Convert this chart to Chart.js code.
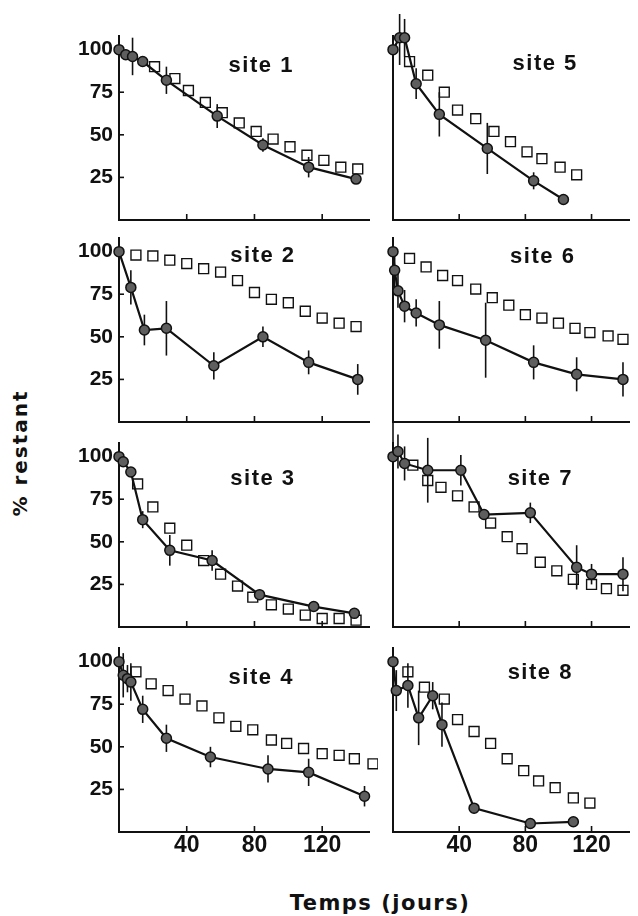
<!DOCTYPE html>
<html>
<head>
<meta charset="utf-8">
<script src="https://cdn.jsdelivr.net/npm/chart.js@4.4.0/dist/chart.umd.min.js"></script>
<style>
  html, body { margin: 0; padding: 0; background: #fff; }
  body { width: 638px; height: 916px; position: relative; overflow: hidden; }
  canvas { position: absolute; }
  .axis-title {
    position: absolute;
    font-family: "DejaVu Sans", sans-serif;
    font-weight: bold;
    color: #111;
    white-space: nowrap;
  }
  #yTitle { left: 20px; top: 453px; font-size: 20px; letter-spacing: 2px; transform: translate(-50%, -50%) rotate(-90deg); }
  #xTitle { left: 380px; top: 903px; font-size: 21px; letter-spacing: 1.5px; transform: translate(-50%, -50%); }
</style>
</head>
<body>
<div id="yTitle" class="axis-title">% restant</div>
<div id="xTitle" class="axis-title">Temps (jours)</div>
<script>
// tick labels
const xTicks = [40, 80, 120];
const yTicks = [25, 50, 75, 100];
const siteNames = ['site 1', 'site 2', 'site 3', 'site 4', 'site 5', 'site 6', 'site 7', 'site 8'];

// site 1
const obsDays1 = [0, 4, 8, 14, 28, 58, 85, 112, 140];
const obs1 = [100, 97, 96, 93, 82, 61, 44, 31, 24];
const err1 = [2, 3, 11, 3, 8, 7, 4, 6, 2];
const modDays1 = [21, 33, 41, 51, 61, 71, 81, 91, 101, 111, 121, 131, 141];
const mod1 = [90, 83, 76, 69, 63, 57, 52, 47.5, 43, 38, 35, 31, 30];

// site 2
const obsDays2 = [0, 7, 15, 28, 56, 85, 112, 141];
const obs2 = [100, 79, 54, 55, 33, 50, 35, 25];
const err2 = [1, 10, 9, 16, 8, 6, 7, 9];
const modDays2 = [10, 20, 30, 40, 50, 60, 70, 80, 90, 100, 110, 120, 130, 140];
const mod2 = [98, 97.5, 95, 93, 90, 88, 83, 76, 72, 70, 65, 61, 58, 56];

// site 3
const obsDays3 = [0, 2.5, 7, 14, 30, 55, 83, 115, 139];
const obs3 = [100, 97, 91, 63, 45, 39, 19, 12, 8];
const err3 = [1, 2, 2, 5, 9, 6, 3, 2, 2];
const modDays3 = [11, 20, 30, 40, 50, 60, 70, 79, 90, 100, 110, 120, 130, 140];
const mod3 = [84, 70.5, 58, 48, 39, 31, 24, 17.5, 13, 10.5, 7, 5, 5, 4];

// site 4
const obsDays4 = [0, 2.5, 5, 7, 14, 28, 54, 88, 112, 145];
const obs4 = [100, 92, 90, 88, 72, 55, 44, 37, 35, 21];
const err4 = [1, 13, 8, 11, 8, 8, 6, 8, 8, 6];
const modDays4 = [10, 19, 29, 39, 49, 59, 69, 79, 90, 99, 109, 120, 130, 139, 150];
const mod4 = [94, 87, 83, 78, 74, 67, 62, 60, 54, 52, 49, 46, 45, 43, 40];

// site 5
const obsDays5 = [0, 4, 7, 14, 28, 57, 85, 103];
const obs5 = [100, 107, 107, 80, 62, 42, 23, 12];
const err5 = [2, 16, 11, 9, 13, 15, 5, 3];
const modDays5 = [10, 21, 31, 39, 50, 61, 71, 81, 90, 101, 111];
const mod5 = [93, 85, 75, 64.5, 59.5, 52, 46, 40, 36, 31, 26.5];

// site 6
const obsDays6 = [0, 1, 3, 7, 14, 28, 56, 85, 111, 139];
const obs6 = [100, 89, 77, 68, 64, 57, 48, 35, 28, 25];
const err6 = [1, 12, 10, 9.5, 8, 14, 22, 10, 10, 10];
const modDays6 = [10, 20, 30, 39, 50, 60, 70, 80, 90, 100, 110, 119, 130, 139];
const mod6 = [96, 91, 86, 83, 78, 73, 68.6, 63, 61, 58, 55, 52.5, 50.5, 48.5];

// site 7
const obsDays7 = [0, 3, 7, 21, 41, 55, 83, 111, 120, 139];
const obs7 = [100, 103, 96, 92, 92, 66, 67, 35, 31, 31];
const err7 = [25, 10, 10, 19, 9, 3, 6, 13, 6, 10];
const modDays7 = [12, 21, 29, 39, 49, 59, 69, 78, 89, 99, 109, 120, 129, 139];
const mod7 = [95, 86, 82, 77, 70.5, 61, 53, 46, 38, 33, 28, 25, 22.5, 21.5];

// site 8
const obsDays8 = [0, 2, 9, 15.5, 24, 29.6, 49, 83, 109];
const obs8 = [100, 83, 86, 67, 80, 63, 14, 5, 6];
const err8 = [1, 12, 13, 16, 8, 13, 3, 2, 2];
const modDays8 = [9, 19, 31, 39, 49, 59, 69, 79, 88, 98, 109, 119];
const mod8 = [94, 85, 78, 66, 59, 52, 43, 36, 30, 26, 20, 17];

const panels = [
    { name: siteNames[0], col: 0, row: 0, obsDays: obsDays1, obs: obs1, err: err1, modDays: modDays1, mod: mod1, labelAt: [84, 90.5] },
    { name: siteNames[1], col: 0, row: 1, obsDays: obsDays2, obs: obs2, err: err2, modDays: modDays2, mod: mod2, labelAt: [85, 97.5] },
    { name: siteNames[2], col: 0, row: 2, obsDays: obsDays3, obs: obs3, err: err3, modDays: modDays3, mod: mod3, labelAt: [85, 87] },
    { name: siteNames[3], col: 0, row: 3, obsDays: obsDays4, obs: obs4, err: err4, modDays: modDays4, mod: mod4, labelAt: [84, 90.5] },
    { name: siteNames[4], col: 1, row: 0, obsDays: obsDays5, obs: obs5, err: err5, modDays: modDays5, mod: mod5, labelAt: [92, 91.5] },
    { name: siteNames[5], col: 1, row: 1, obsDays: obsDays6, obs: obs6, err: err6, modDays: modDays6, mod: mod6, labelAt: [90.5, 97] },
    { name: siteNames[6], col: 1, row: 2, obsDays: obsDays7, obs: obs7, err: err7, modDays: modDays7, mod: mod7, labelAt: [89, 87] },
    { name: siteNames[7], col: 1, row: 3, obsDays: obsDays8, obs: obs8, err: err8, modDays: modDays8, mod: mod8, labelAt: [89, 93.5] }
];

// layout of the grid
const PAD_TOP = 22;
const PLOT_H = 184;
const rowBottoms = [220, 422, 627, 832];
const cols = [
    { left: 50, width: 328, axisW: 69, padRight: 6, xMax: 148 },
    { left: 383, width: 255, axisW: 10, padRight: 0, xMax: 143 }
];
const INK = '#111';

// error bars, drawn after the squares and before the circles
const errorBars = {
    id: 'errorBars',
    afterDatasetDraw(chart, args) {
        if (args.index !== 1) return;
        const ds = chart.data.datasets[0];
        const { x, y } = chart.scales;
        const ctx = chart.ctx;
        ctx.save();
        ctx.strokeStyle = INK;
        ctx.lineWidth = 1.6;
        ds.data.forEach((pt, i) => {
            const e = ds.errors[i];
            if (!e) return;
            const px = x.getPixelForValue(pt.x);
            ctx.beginPath();
            ctx.moveTo(px, y.getPixelForValue(pt.y + e));
            ctx.lineTo(px, y.getPixelForValue(pt.y - e));
            ctx.stroke();
        });
        ctx.restore();
    }
};

// small tick marks pointing into the plot
const innerTicks = {
    id: 'innerTicks',
    afterDraw(chart, args, opts) {
        const { ctx, scales: { x, y } } = chart;
        ctx.save();
        ctx.strokeStyle = INK;
        ctx.lineWidth = 1.6;
        xTicks.forEach(v => {
            const px = x.getPixelForValue(v);
            ctx.beginPath();
            ctx.moveTo(px, y.bottom);
            ctx.lineTo(px, y.bottom - 6);
            ctx.stroke();
        });
        if (opts.showY) {
            yTicks.filter(v => v < 100).forEach(v => {
                const py = y.getPixelForValue(v);
                ctx.beginPath();
                ctx.moveTo(x.left, py);
                ctx.lineTo(x.left + 5, py);
                ctx.stroke();
            });
        }
        ctx.restore();
    }
};

const siteLabel = {
    id: 'siteLabel',
    afterDraw(chart, args, opts) {
        const { ctx, scales: { x, y } } = chart;
        ctx.save();
        ctx.font = 'bold 22px "Liberation Sans", Arial, sans-serif';
        if ('letterSpacing' in ctx) ctx.letterSpacing = '1.5px';
        ctx.fillStyle = INK;
        ctx.textAlign = 'center';
        ctx.textBaseline = 'middle';
        ctx.fillText(opts.text, x.getPixelForValue(opts.at[0]), y.getPixelForValue(opts.at[1]));
        ctx.restore();
    }
};

function renderPanel(p) {
    const c = cols[p.col];
    const isBottom = p.row === 3;
    const xAxisH = isBottom ? 32 : 4;
    const padBottom = isBottom ? 4 : 18;
    const height = PAD_TOP + PLOT_H + xAxisH + padBottom;

    const canvas = document.createElement('canvas');
    canvas.width = c.width;
    canvas.height = height;
    canvas.style.left = c.left + 'px';
    canvas.style.top = (rowBottoms[p.row] - PAD_TOP - PLOT_H) + 'px';
    document.body.appendChild(canvas);

    new Chart(canvas, {
        type: 'line',
        data: {
            datasets: [
                {
                    label: 'observé',
                    data: p.obsDays.map((d, i) => ({ x: d, y: p.obs[i] })),
                    errors: p.err,
                    borderColor: INK,
                    borderWidth: 2.2,
                    pointRadius: 5,
                    pointBackgroundColor: '#5e5e5e',
                    pointBorderColor: INK,
                    pointBorderWidth: 1.5,
                    tension: 0,
                    clip: false,
                    order: 0
                },
                {
                    label: 'simulé',
                    data: p.modDays.map((d, i) => ({ x: d, y: p.mod[i] })),
                    showLine: false,
                    pointStyle: 'rect',
                    pointRadius: 7,
                    pointBackgroundColor: '#fff',
                    pointBorderColor: INK,
                    pointBorderWidth: 1.4,
                    clip: false,
                    order: 1
                }
            ]
        },
        options: {
            responsive: false,
            animation: false,
            events: [],
            layout: { padding: { top: PAD_TOP, bottom: padBottom, left: 0, right: c.padRight } },
            scales: {
                x: {
                    type: 'linear',
                    min: 0,
                    max: c.xMax,
                    afterBuildTicks: s => { s.ticks = xTicks.map(v => ({ value: v })); },
                    afterFit: s => { s.height = xAxisH; },
                    ticks: {
                        display: isBottom,
                        autoSkip: false,
                        maxRotation: 0,
                        padding: 0,
                        color: INK,
                        font: { family: '"Liberation Sans", Arial, sans-serif', size: 23, weight: 'bold' }
                    },
                    grid: { drawOnChartArea: false, drawTicks: false },
                    border: { color: INK, width: 2 }
                },
                y: {
                    min: 0,
                    max: 108,
                    afterBuildTicks: s => { s.ticks = yTicks.map(v => ({ value: v })); },
                    afterFit: s => { s.width = c.axisW; },
                    ticks: {
                        display: p.col === 0,
                        autoSkip: false,
                        padding: 6,
                        color: INK,
                        font: { family: '"Liberation Sans", Arial, sans-serif', size: 21, weight: 'bold' }
                    },
                    grid: { drawOnChartArea: false, drawTicks: false },
                    border: { color: INK, width: 2 }
                }
            },
            plugins: {
                legend: { display: false },
                tooltip: { enabled: false },
                innerTicks: { showY: p.col === 0 },
                siteLabel: { text: p.name, at: p.labelAt }
            }
        },
        plugins: [errorBars, innerTicks, siteLabel]
    });
}

panels.forEach(renderPanel);
</script>
</body>
</html>
